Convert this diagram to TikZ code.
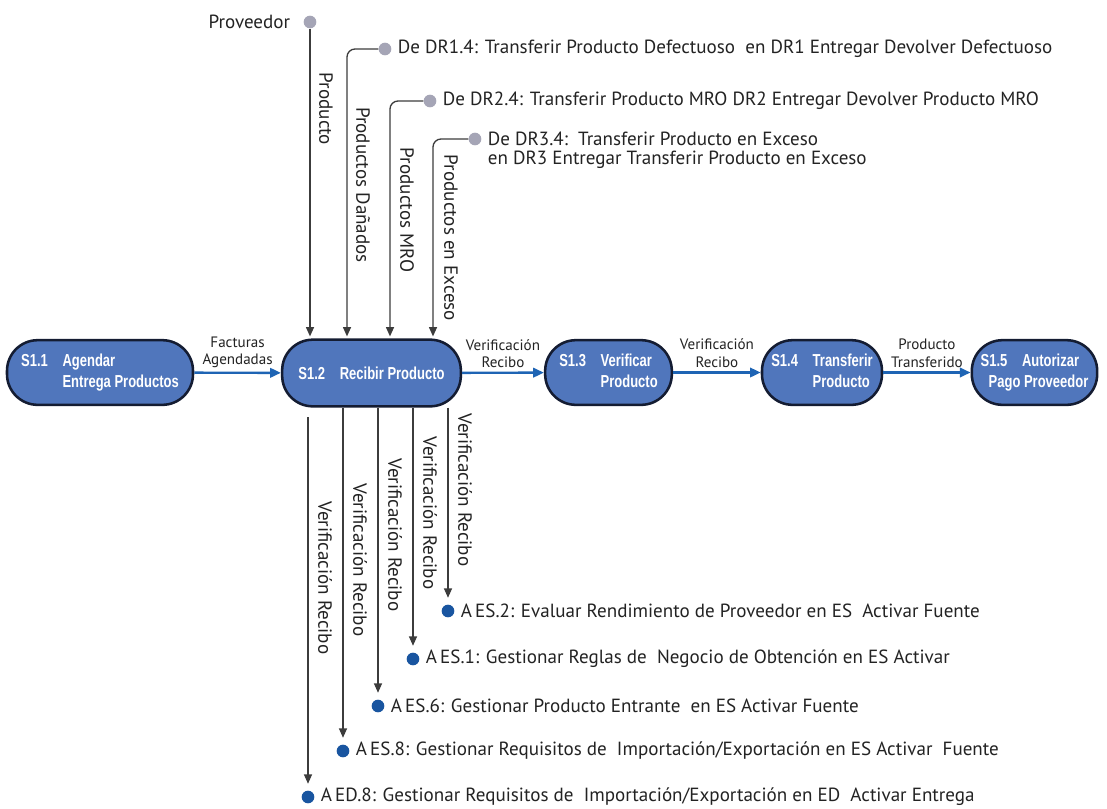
\documentclass[tikz,border=0pt]{standalone}
\usepackage{fontspec}
\setmainfont{PT Sans}
\newfontfamily\boxfont[FakeStretch=0.75,BoldFeatures={FakeStretch=0.75}]{Liberation Sans}
\usetikzlibrary{arrows.meta,calc}

\definecolor{nodefill}{RGB}{80,118,188}
\definecolor{nodeborder}{RGB}{20,28,50}
\definecolor{flowblue}{RGB}{30,100,180}
\definecolor{linegray}{RGB}{60,60,60}
\definecolor{dotgray}{RGB}{165,165,182}
\definecolor{dotblue}{RGB}{25,85,160}
\definecolor{txt}{RGB}{35,35,35}

\begin{document}
\begin{tikzpicture}[x=0.75pt,y=-0.75pt,
  proc/.style={draw=nodeborder, line width=1.9pt, fill=nodefill,
    rounded corners=23pt, minimum height=48.5pt, inner sep=0pt,
    text=white, font=\boxfont\bfseries\fontsize{13}{16}\selectfont},
  flow/.style={draw=flowblue, line width=1.8pt, -{Triangle[length=8pt,width=7pt]}},
  feed/.style={draw=linegray, line width=1pt, -{Triangle[length=7pt,width=6pt]},
    rounded corners=6pt},
  flab/.style={font=\fontsize{11.3}{13}\selectfont, align=center, text=txt,
    inner sep=1pt},
  vlab/.style={font=\fontsize{14.3}{16}\selectfont, rotate=-90, text=txt,
    inner sep=0pt},
  ann/.style={font=\fontsize{14.3}{17}\selectfont, align=left, text=txt,
    inner sep=0pt},
  gdot/.style={circle, fill=dotgray, minimum size=9.5pt, inner sep=0pt},
  bdot/.style={circle, fill=dotblue, minimum size=9.5pt, inner sep=0pt}
]
\useasboundingbox[fill=white] (0,0) rectangle (1107,808);

% process chain
\node[proc, minimum width=139.5pt] (s11) at (100,372.5)
  {\begin{tabular}{@{}l@{\hspace{11pt}}l@{}}S1.1 & Agendar\\ & Entrega Productos\end{tabular}};
\node[proc, minimum width=134pt, minimum height=50pt] (s12) at (371.5,373)
  {S1.2\hspace{11pt}Recibir Producto};
\node[proc, minimum width=95pt] (s13) at (608.5,372.5)
  {\begin{tabular}{@{}l@{\hspace{11pt}}l@{}}S1.3 & Verificar\\ & Producto\end{tabular}};
\node[proc, minimum width=90pt] (s14) at (822,372.5)
  {\begin{tabular}{@{}l@{\hspace{11pt}}l@{}}S1.4 & Transferir\\ & Producto\end{tabular}};
\node[proc, minimum width=94pt] (s15) at (1034.5,372.5)
  {\begin{tabular}{@{}l@{\hspace{11pt}}l@{}}S1.5 & Autorizar\\ \multicolumn{2}{r@{}}{Pago Proveedor}\end{tabular}};

\draw[flow] (s11) -- node[flab, midway, above=2pt] {Facturas\\Agendadas} (s12);
\draw[flow] (s12) -- node[flab, midway, above=2pt] {Verificación\\Recibo} (s13);
\draw[flow] (s13) -- node[flab, midway, above=2pt] {Verificación\\Recibo} (s14);
\draw[flow] (s14) -- node[flab, midway, above=2pt] {Producto\\Transferido} (s15);

% incoming sources
\node[gdot] (prov) at (310,22) {};
\node[ann, anchor=east] (provtxt) at ($(prov.west)+(-13,0)$) {Proveedor};
\node[gdot] (dr1) at (385,49) {};
\node[ann, anchor=west] (dr1txt) at ($(dr1.east)+(6,0)$)
  {De DR1.4: Transferir Producto Defectuoso\ \ en DR1 Entregar Devolver Defectuoso};
\node[gdot] (dr2) at (430,101) {};
\node[ann, anchor=west] (dr2txt) at ($(dr2.east)+(6,0)$)
  {De DR2.4: Transferir Producto MRO DR2 Entregar Devolver Producto MRO};
\node[gdot] (dr3) at (475,139) {};
\node[ann, anchor=west] (dr3txt) at ($(dr3.east)+(6,0)$)
  {De DR3.4:\ \ Transferir Producto en Exceso};
\node[ann, anchor=north west] (dr3txtb) at ($(dr3txt.south west)+(0,5)$)
  {en DR3 Entregar Transferir Producto en Exceso};

\draw[feed] (prov) -- ($(prov |- s12.north)+(0,-2)$);
\draw[feed] (dr1) -| ($(s12.north)+(-24.5,-2)$);
\draw[feed] (dr2) -| ($(s12.north)+(18.5,-2)$);
\draw[feed] (dr3) -| ($(s12.north)+(61.5,-2)$);

\node[vlab] (lprov) at (326,109) {Producto};
\node[vlab] (ldr1) at (363,185) {Productos Dañados};
\node[vlab] (ldr2) at (407,210) {Productos MRO};
\node[vlab] (ldr3) at (451,238) {Productos en Exceso};

% outgoing destinations
\node[bdot] (es2) at (448,611) {};
\node[bdot] (es1) at (413,659) {};
\node[bdot] (es6) at (378,706) {};
\node[bdot] (es8) at (343,751) {};
\node[bdot] (ed8) at (308,797) {};

\node[ann, anchor=west] (es2txt) at ($(es2.east)+(6,0)$)
  {A\,ES.2: Evaluar Rendimiento de Proveedor en ES\ \ Activar Fuente};
\node[ann, anchor=west] (es1txt) at ($(es1.east)+(6,0)$)
  {A\,ES.1: Gestionar Reglas de\ \ Negocio de Obtención en ES Activar};
\node[ann, anchor=west] (es6txt) at ($(es6.east)+(6,0)$)
  {A\,ES.6: Gestionar Producto Entrante\ \ en ES Activar Fuente};
\node[ann, anchor=west] (es8txt) at ($(es8.east)+(6,0)$)
  {A\,ES.8: Gestionar Requisitos de\ \ Importación/Exportación en ES Activar\ \ Fuente};
\node[ann, anchor=west] (ed8txt) at ($(ed8.east)+(6,0)$)
  {A\,ED.8: Gestionar Requisitos de\ \ Importación/Exportación en ED\ \ Activar Entrega};

\coordinate (edstart) at (308,417);
\draw[feed, shorten >=5pt] ($(s12.south)+(76.5,0)$) -- (es2.north);
\draw[feed, shorten >=5pt] ($(s12.south)+(41.5,0)$) -- (es1.north);
\draw[feed, shorten >=5pt] ($(s12.south)+(6.5,0)$) -- (es6.north);
\draw[feed, shorten >=5pt] ($(s12.south)+(-28.5,0)$) -- (es8.north);
\draw[feed, shorten >=5pt] (edstart) -- (ed8.north);

\node[vlab] (les2) at (465,490) {Verificación Recibo};
\node[vlab] (les1) at (430,513) {Verificación Recibo};
\node[vlab] (les6) at (395,535) {Verificación Recibo};
\node[vlab] (les8) at (360,560) {Verificación Recibo};
\node[vlab] (led8) at (325,578) {Verificación Recibo};
\end{tikzpicture}
\end{document}
